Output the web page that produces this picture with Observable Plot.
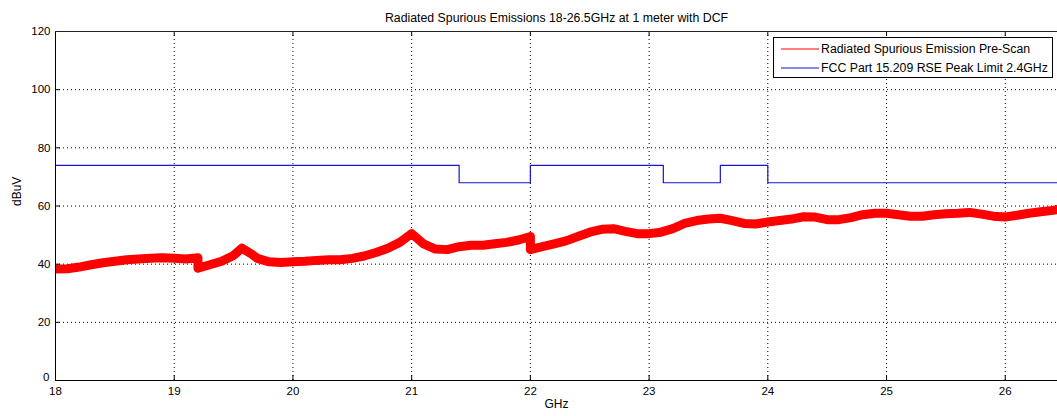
<!DOCTYPE html>
<html>
<head>
<meta charset="utf-8">
<script src="https://cdn.jsdelivr.net/npm/d3@7"></script>
<script src="https://cdn.jsdelivr.net/npm/@observablehq/plot@0.6"></script>
<style>
  html, body { margin: 0; padding: 0; background: #fff; }
  #wrap { position: relative; width: 1057px; height: 416px; font-family: "Liberation Sans", Arial, sans-serif; }
  #legend { position: absolute; left: 773px; top: 37px; width: 280px; height: 41px; border: 1px solid #000; background: #fff; box-sizing: border-box; font-size: 12.3px; color: #000; }
  .lrow { position: absolute; left: 0; height: 14px; display: flex; align-items: center; white-space: nowrap; }
  .lrow svg { margin-left: 7px; margin-right: 2px; }
</style>
</head>
<body>
<div id="wrap"></div>
<script>
// ---- data ----
const titleText = "Radiated Spurious Emissions 18-26.5GHz at 1 meter with DCF";
const xLabel = "GHz";
const yLabel = "dBuV";
const xTicks = [18, 19, 20, 21, 22, 23, 24, 25, 26];
const yTicks = [0, 20, 40, 60, 80, 100, 120];
const seriesNames = ["Radiated Spurious Emission Pre-Scan", "FCC Part 15.209 RSE Peak Limit 2.4GHz"];

// Pre-scan trace (center of the noisy band), GHz / dBuV
const scanGHz = [18.0,18.1,18.2,18.3,18.4,18.5,18.6,18.7,18.8,18.9,19.0,19.1,19.2,19.2,19.3,19.4,19.5,19.57,19.65,19.7,19.8,19.9,20.0,20.1,20.2,20.3,20.4,20.5,20.6,20.7,20.8,20.9,21.0,21.1,21.2,21.3,21.4,21.5,21.6,21.7,21.8,21.9,22.0,22.0,22.1,22.2,22.3,22.4,22.5,22.6,22.7,22.8,22.9,23.0,23.1,23.2,23.3,23.4,23.5,23.6,23.7,23.8,23.9,24.0,24.1,24.2,24.3,24.4,24.5,24.6,24.7,24.8,24.9,25.0,25.1,25.2,25.3,25.4,25.5,25.6,25.7,25.8,25.9,26.0,26.1,26.2,26.3,26.4,26.5];
const scanDb  = [38.3,38.4,39.0,39.8,40.5,41.0,41.5,41.8,42.0,42.2,42.0,41.8,42.2,38.6,39.8,41.0,43.0,45.5,43.5,42.0,40.8,40.6,40.8,41.0,41.3,41.5,41.5,42.0,42.8,44.0,45.5,47.5,50.5,47.0,45.2,45.0,46.0,46.5,46.5,47.0,47.5,48.3,49.5,45.0,46.0,47.0,48.0,49.5,51.0,52.0,52.2,51.3,50.5,50.5,51.0,52.2,54.0,55.0,55.5,55.8,55.0,54.0,53.8,54.5,55.0,55.5,56.3,56.2,55.3,55.3,56.0,57.0,57.5,57.5,57.0,56.5,56.5,57.0,57.3,57.5,57.8,57.2,56.5,56.2,56.8,57.5,58.0,58.5,59.2];

// FCC limit (step-after breakpoints)
const limitGHz = [18, 21.4, 22.0, 23.12, 23.6, 24.0, 26.5];
const limitDb  = [74, 68, 74, 68, 74, 68, 68];

const scan = scanGHz.map((x, i) => ({x, y: scanDb[i]}));
const limit = limitGHz.map((x, i) => ({x, y: limitDb[i]}));

const W = 1057, H = 416, mL = 55, mR = 0, mT = 31, mB = 36;
const plotW = W - mL - mR, plotH = H - mT - mB;
const red = "#ff0000", blue = "#1616d0";
const tickFont = 11.5;

const chart = Plot.plot({
  width: W, height: H,
  marginLeft: mL, marginRight: mR, marginTop: mT, marginBottom: mB,
  style: {fontFamily: "'Liberation Sans', Arial, sans-serif", fontSize: "11px", background: "#fff", color: "#000"},
  x: {domain: [18, 26.44], ticks: xTicks, label: null},
  y: {domain: [0, 120], ticks: yTicks, label: null},
  marks: [
    Plot.gridX(xTicks.filter(d => d > 18), {stroke: "#000", strokeOpacity: 1, strokeDasharray: "1,3"}),
    Plot.gridY(yTicks.filter(d => d > 0 && d < 120), {stroke: "#000", strokeOpacity: 1, strokeDasharray: "1,3"}),
    Plot.line(scan, {x: "x", y: "y", stroke: red, strokeWidth: 9, strokeLinejoin: "round", strokeLinecap: "butt", clip: true}),
    Plot.line(limit, {x: "x", y: "y", curve: "step-after", stroke: blue, strokeWidth: 1.2, clip: true}),
    // inward ticks
    Plot.tickX(xTicks, {x: d => d, insetTop: plotH - 5, stroke: "#000"}),
    Plot.tickX(xTicks, {x: d => d, insetBottom: plotH - 5, stroke: "#000"}),
    Plot.tickY(yTicks, {y: d => d, insetRight: plotW - 5, stroke: "#000"}),
    // box
    Plot.ruleX([18], {stroke: "#000"}),
    Plot.ruleY([0], {stroke: "#000"}),
    Plot.ruleY([120], {stroke: "#222"}),
    Plot.axisX(xTicks, {tickSize: 0, tickPadding: 6, fontSize: tickFont, tickFormat: d => String(d), label: null}),
    Plot.axisY(yTicks.filter(d => d > 0), {tickSize: 0, tickPadding: 5, fontSize: tickFont, tickFormat: d => String(d), label: null}),
    Plot.axisY([0], {tickSize: 0, tickPadding: 6, dy: -3, fontSize: tickFont, tickFormat: d => String(d), label: null}),
    Plot.text([titleText], {frameAnchor: "top", dy: -18, fontSize: 12.3, fill: "#000"}),
    Plot.text([xLabel], {frameAnchor: "bottom", dy: 27, fontSize: 12, fill: "#000"}),
    Plot.text([yLabel], {frameAnchor: "left", dx: -38, rotate: -90, fontSize: 12, fill: "#000"})
  ]
});

const wrap = document.getElementById("wrap");
wrap.appendChild(chart);

// legend
const legend = document.createElement("div");
legend.id = "legend";
const colors = [red, blue];
const tops = [4, 23];
seriesNames.forEach((name, i) => {
  const row = document.createElement("div");
  row.className = "lrow";
  row.style.top = tops[i] + "px";
  row.innerHTML = `<svg width="38" height="4"><line x1="0" x2="38" y1="2" y2="2" stroke="${colors[i]}" stroke-width="1.2"/></svg><span>${name}</span>`;
  legend.appendChild(row);
});
wrap.appendChild(legend);
</script>
</body>
</html>
